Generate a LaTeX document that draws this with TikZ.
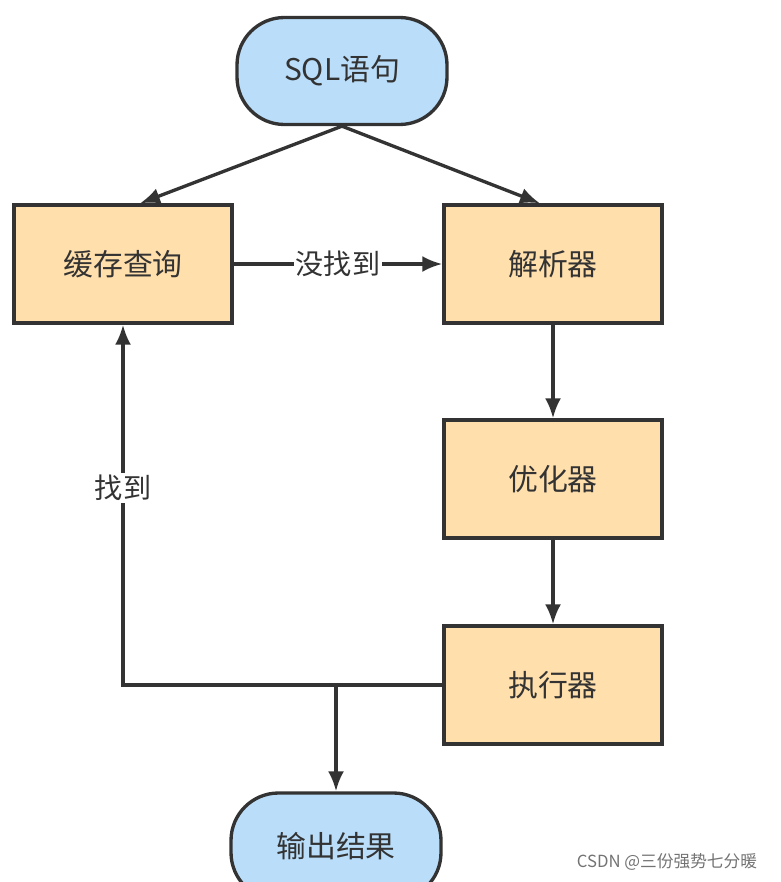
\documentclass[tikz,border=0pt]{standalone}
\usepackage{fontspec}
\usepackage{tikz}
\usetikzlibrary{calc, arrows, arrows.meta}
\newfontfamily\cjk{Noto Sans CJK SC}
\definecolor{boxfill}{HTML}{FFDFAC}
\definecolor{termfill}{HTML}{BADEFA}
\definecolor{edge}{HTML}{333333}
\tikzstyle{block}=[draw=edge, line width=1.9pt, fill=boxfill, minimum width=4.36cm, minimum height=2.36cm, font=\cjk\fontsize{17}{20}\selectfont, text=edge]
\tikzstyle{term}=[block, fill=termfill, rounded corners=0.95cm, minimum width=4.2cm, minimum height=2.14cm]
\tikzstyle{lbl}=[fill=white, inner sep=1pt, text=edge, font=\cjk\fontsize{16}{19}\selectfont]
\tikzstyle{line}=[draw=edge, line width=1.9pt]

\begin{document}
\begin{tikzpicture}[node distance=4.3cm,>={Latex[length=0.4cm,width=0.32cm]}]
      \useasboundingbox (0,0) rectangle (15.62,-17.64);
      \node [term] (sql) at (6.84,-1.42) {SQL语句};
      \node [block] (cache) at (2.46,-5.28) {缓存查询};
      \node [block] (parse) [right of=cache, node distance=8.6cm] {解析器};
      \node [block] (opt) [below of=parse] {优化器};
      \node [block] (exec) [below of=opt, node distance=4.12cm] {执行器};
      \node [term] (out) at (6.72,-16.93) {输出结果};
      \coordinate (turn) at (cache.south |- exec.west);
      \coordinate (split) at (out.north |- exec.west);

      \draw[line,->] (sql.south) -- ([xshift=0.34cm]cache.north);
      \draw[line,->] (sql.south) -- ([xshift=-0.26cm]parse.north);
      \draw[line,->] (cache) -- node [lbl] {没找到} (parse);
      \draw[line,->] (parse) -- (opt);
      \draw[line,->] (opt) -- (exec);
      \draw[line,->] (exec.west) -- (turn) -- node [lbl, pos=0.547] {找到} (cache.south);
      \draw[line,->] (split) -- (out.north);

      \node (mark) at (13.34,-17.24) [text=black!55, font=\cjk\fontsize{9.5}{11}\selectfont] {CSDN @三份强势七分暖};
  \end{tikzpicture}
\end{document}
